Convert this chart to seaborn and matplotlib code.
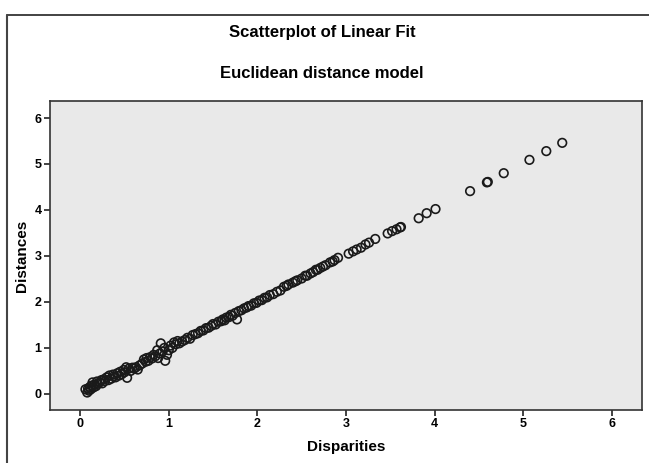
import numpy as np
import matplotlib
matplotlib.use("Agg")
import matplotlib.pyplot as plt
from matplotlib.lines import Line2D
import seaborn as sns

# valores (disparidades x distancias)
disp_baixo = [0.06, 0.08, 0.09, 0.10, 0.11, 0.12, 0.13, 0.14, 0.15, 0.16, 0.18, 0.19,
              0.20, 0.22, 0.24, 0.25, 0.27, 0.28, 0.30, 0.32, 0.33, 0.35, 0.37, 0.38,
              0.40, 0.42, 0.44, 0.45, 0.47, 0.49, 0.50, 0.52, 0.53, 0.55, 0.57, 0.59]
dist_baixo = [0.10, 0.03, 0.12, 0.07, 0.15, 0.10, 0.18, 0.25, 0.14, 0.20, 0.17, 0.27,
              0.22, 0.25, 0.30, 0.23, 0.32, 0.28, 0.36, 0.30, 0.40, 0.33, 0.42, 0.38,
              0.36, 0.45, 0.40, 0.48, 0.43, 0.52, 0.47, 0.58, 0.35, 0.55, 0.50, 0.57]

disp_meio = [0.61, 0.63, 0.65, 0.67, 0.70, 0.72, 0.74, 0.75, 0.77, 0.79, 0.81, 0.83,
             0.85, 0.87, 0.88, 0.90, 0.91, 0.93, 0.95, 0.96, 0.98, 1.00, 1.02, 1.04,
             1.06, 1.08, 1.10, 1.12, 1.15, 1.18]
dist_meio = [0.55, 0.58, 0.53, 0.62, 0.66, 0.75, 0.70, 0.78, 0.72, 0.80, 0.77, 0.85,
             0.82, 0.95, 0.78, 0.88, 1.10, 0.92, 1.00, 0.72, 0.85, 0.95, 1.05, 1.00,
             1.12, 1.08, 1.15, 1.10, 1.14, 1.17]

disp_alto = [1.21, 1.24, 1.27, 1.30, 1.33, 1.36, 1.39, 1.42, 1.45, 1.48, 1.50, 1.53,
             1.56, 1.59, 1.61, 1.63, 1.65, 1.68, 1.70, 1.72, 1.75, 1.77, 1.79, 1.82,
             1.85, 1.88, 1.90, 1.93, 1.96, 1.99, 2.02, 2.05, 2.08, 2.11, 2.14, 2.18,
             2.22, 2.26]
dist_alto = [1.22, 1.20, 1.28, 1.30, 1.32, 1.37, 1.38, 1.43, 1.44, 1.48, 1.52, 1.51,
             1.57, 1.58, 1.62, 1.60, 1.66, 1.67, 1.72, 1.70, 1.76, 1.62, 1.80, 1.82,
             1.86, 1.88, 1.91, 1.92, 1.97, 1.98, 2.03, 2.04, 2.09, 2.10, 2.15, 2.17,
             2.22, 2.25]

disp_topo = [2.30, 2.33, 2.35, 2.40, 2.43, 2.45, 2.50, 2.54, 2.56, 2.60, 2.63, 2.66,
             2.68, 2.71, 2.74, 2.77, 2.82, 2.85, 2.87, 2.91, 3.03, 3.08, 3.12, 3.17,
             3.22, 3.26, 3.33, 3.47, 3.52, 3.57, 3.61, 3.62, 3.82, 3.91, 4.01, 4.40,
             4.59, 4.60, 4.78, 5.07, 5.26, 5.44]
dist_topo = [2.33, 2.35, 2.38, 2.42, 2.45, 2.47, 2.51, 2.57, 2.57, 2.62, 2.65, 2.70,
             2.70, 2.74, 2.77, 2.80, 2.86, 2.88, 2.91, 2.96, 3.05, 3.10, 3.14, 3.18,
             3.25, 3.29, 3.37, 3.49, 3.54, 3.58, 3.62, 3.63, 3.82, 3.93, 4.02, 4.41,
             4.60, 4.61, 4.80, 5.09, 5.28, 5.46]

disparities = disp_baixo + disp_meio + disp_alto + disp_topo
distances = dist_baixo + dist_meio + dist_alto + dist_topo

ticks = [0, 1, 2, 3, 4, 5, 6]

sns.set_style("white")
plt.rcParams['font.family'] = ['Liberation Sans', 'DejaVu Sans']
plt.rcParams['text.color'] = 'black'
plt.rcParams['axes.labelcolor'] = 'black'
plt.rcParams['xtick.color'] = 'black'
plt.rcParams['ytick.color'] = 'black'

fig = plt.figure(figsize=(6.49, 4.63), dpi=100)
ax = fig.add_axes([50 / 649, 1 - 410 / 463, 592 / 649, 309 / 463])
ax.set_facecolor('#e9e9e9')

sns.scatterplot(x=disparities, y=distances, ax=ax, marker='o', s=38,
                facecolor='none', edgecolor='#1a1a1a', linewidth=1.2)

ax.set_xlim(-0.34, 6.34)
ax.set_ylim(-0.35, 6.37)
ax.set_xticks(ticks)
ax.set_yticks(ticks)
ax.tick_params(axis='both', direction='out', length=4, width=1.2, color='#222222',
               labelcolor='black', labelsize=9, pad=2, bottom=True, left=True)
for lab in ax.get_xticklabels() + ax.get_yticklabels():
    lab.set_fontweight('bold')
for sp in ax.spines.values():
    sp.set_color('#333333')
    sp.set_linewidth(1.2)

ax.set_xlabel('Disparities', fontsize=11, fontweight='bold', labelpad=7)
ax.set_ylabel('Distances', fontsize=11, fontweight='bold', labelpad=4)

fig.text(322 / 649, 1 - 32 / 463, 'Scatterplot of Linear Fit', ha='center', va='center',
         fontsize=12, fontweight='bold')
fig.text(322 / 649, 1 - 73 / 463, 'Euclidean distance model', ha='center', va='center',
         fontsize=12, fontweight='bold')

# moldura externa (topo e esquerda)
y_top = 1 - 15 / 463
x_left = 7 / 649
fig.add_artist(Line2D([x_left, 1], [y_top, y_top], color='#222222', lw=1.2))
fig.add_artist(Line2D([x_left, x_left], [0, y_top], color='#444444', lw=1.5))

fig.savefig('out.png', dpi=100)
